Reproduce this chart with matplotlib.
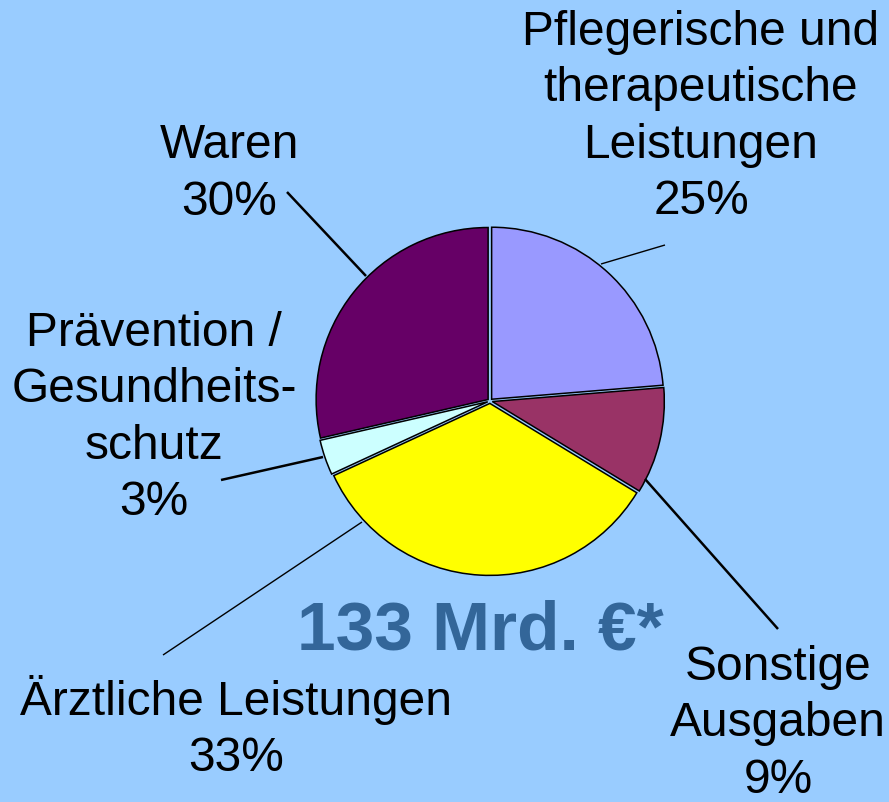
import matplotlib.pyplot as plt

# slice shares as drawn (clockwise from 12 o'clock)
labels = ["Pflegerische und\ntherapeutische\nLeistungen", "Sonstige\nAusgaben",
          "Ärztliche Leistungen", "Prävention /\nGesundheits-\nschutz", "Waren"]
shares = [23.7, 10.0, 34.4, 3.3, 28.6]
pct_text = ["25%", "9%", "33%", "3%", "30%"]
colors = ["#9999FF", "#993366", "#FFFF00", "#CCFFFF", "#660066"]

W, H = 889, 803
fig = plt.figure(figsize=(W / 100, H / 100), dpi=100, facecolor="#99CCFF")
ax = fig.add_axes([0, 0, 1, 1])

plt.rcParams['font.family'] = ['Liberation Sans', 'DejaVu Sans']

cx, cy, r = 490, H - 402, 172
# explode is in data units here (pixels)
ax.pie(shares, colors=colors, startangle=90, counterclock=False,
       center=(cx, cy), radius=r, explode=[2.4] * 5,
       wedgeprops=dict(edgecolor="black", linewidth=1.1), frame=True)
ax.set_xlim(0, W)
ax.set_ylim(0, H)
ax.set_aspect("equal")
ax.axis("off")

# label positions (x, y from top) and leader lines
label_pos = [(701, 117), (778, 724), (236, 728), (154, 418), (229, 174)]
leaders = [((601, 265), (665, 246), 1.0),
           ((645, 480), (778, 630), 1.8),
           ((362, 523), (163, 656), 1.0),
           ((323, 458), (221, 481), 1.8),
           ((366, 277), (287, 193), 1.8)]

for lab, pct, (x, y) in zip(labels, pct_text, label_pos):
    ax.text(x, H - y, lab + "\n" + pct, ha="center", va="center",
            fontsize=34.5, linespacing=1.33, color="black")

for (a, b, lw) in leaders:
    ax.plot([a[0], b[0]], [H - a[1], H - b[1]], color="black", lw=lw,
            solid_capstyle="butt")

ax.text(480, H - 632, "133 Mrd. €*", ha="center", va="center",
        fontsize=50, fontweight="bold", color="#336699")

fig.savefig("out.png", dpi=100, facecolor=fig.get_facecolor())
